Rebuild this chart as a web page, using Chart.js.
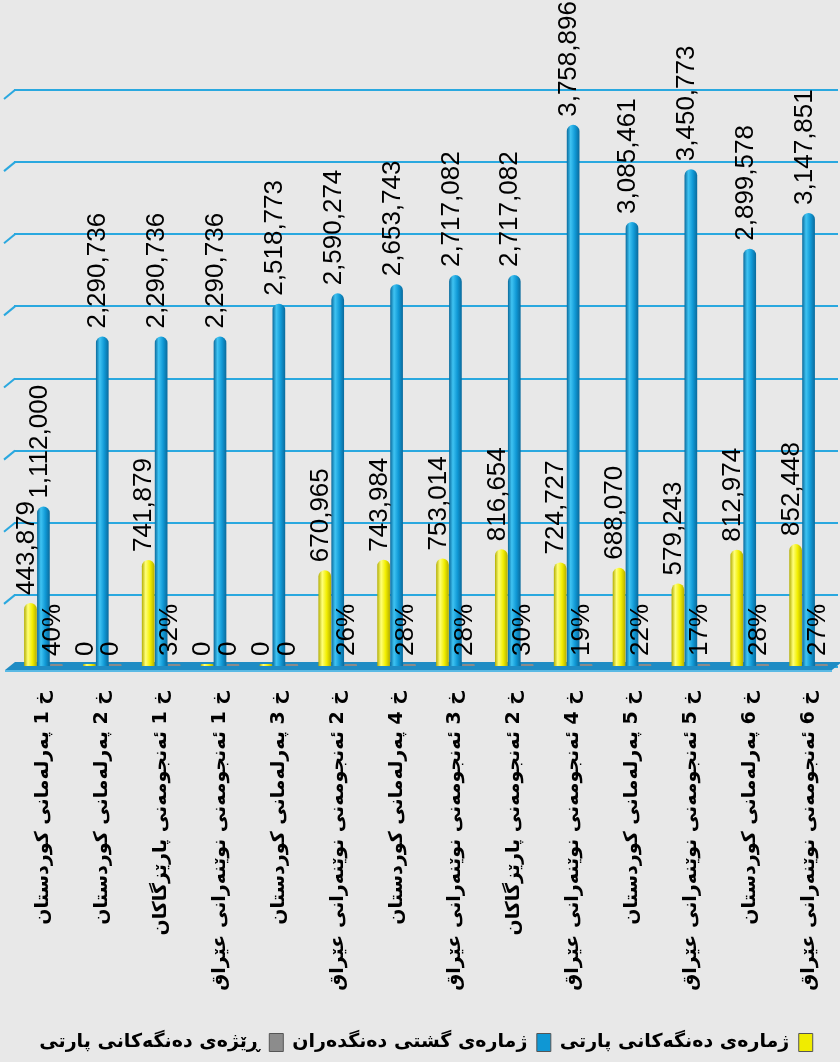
<!DOCTYPE html>
<html>
<head>
<meta charset="utf-8">
<script src="https://cdn.jsdelivr.net/npm/chart.js@4.4.1/dist/chart.umd.min.js"></script>
<style>
    html, body { margin: 0; padding: 0; background: #e8e8e8; }
    #wrap { width: 840px; height: 1062px; }
</style>
</head>
<body>
<div id="wrap"><canvas id="votes"></canvas></div>
<script>
const categories = [
    'خ 1 پەرلەمانی کوردستان',
    'خ 2 پەرلەمانی کوردستان',
    'خ 1 ئەنجومەنی پارێزگاکان',
    'خ 1 ئەنجومەنی نوێنەرانی عێراق',
    'خ 3 پەرلەمانی کوردستان',
    'خ 2 ئەنجومەنی نوێنەرانی عێراق',
    'خ 4 پەرلەمانی کوردستان',
    'خ 3 ئەنجومەنی نوێنەرانی عێراق',
    'خ 2 ئەنجومەنی پارێزگاکان',
    'خ 4 ئەنجومەنی نوێنەرانی عێراق',
    'خ 5 پەرلەمانی کوردستان',
    'خ 5 ئەنجومەنی نوێنەرانی عێراق',
    'خ 6 پەرلەمانی کوردستان',
    'خ 6 ئەنجومەنی نوێنەرانی عێراق'
];
const partyVotes = [443879, 0, 741879, 0, 0, 670965, 743984, 753014, 816654, 724727, 688070, 579243, 812974, 852448];
const totalVoters = [1112000, 2290736, 2290736, 2290736, 2518773, 2590274, 2653743, 2717082, 2717082, 3758896, 3085461, 3450773, 2899578, 3147851];
const partyShare = [40, 0, 32, 0, 0, 26, 28, 28, 30, 19, 22, 17, 28, 27];
const seriesNames = ['ژمارەی دەنگەکانی پارتی', 'ژمارەی گشتی دەنگدەران', 'ڕێژەی دەنگەکانی پارتی'];
const yMin = 0;
const yMax = 4000000;
const yStep = 500000;

const solidColors = ['#f0ec00', '#0f97d4', '#8c8c8c'];
const gridBlue = '#2aa8df';

// horizontal gradient so the bars look like cylinders
function cylinder(dark, light, mid) {
    return function (ctx) {
        const el = ctx.element;
        if (!el || !isFinite(el.x) || !el.width) return mid;
        const g = ctx.chart.ctx.createLinearGradient(el.x - el.width / 2, 0, el.x + el.width / 2, 0);
        g.addColorStop(0, dark);
        g.addColorStop(0.3, light);
        g.addColorStop(0.65, mid);
        g.addColorStop(1, dark);
        return g;
    };
}

// 3d floor and the little slanted stubs on the left of every grid line
const floorPlugin = {
    id: 'floor',
    beforeDatasetsDraw(chart) {
        const {ctx, chartArea} = chart;
        const {left, right, bottom} = chartArea;
        const y = chart.scales.y;
        ctx.save();
        ctx.strokeStyle = gridBlue;
        ctx.lineWidth = 2;
        y.ticks.forEach(t => {
            if (t.value === 0) return;
            const py = y.getPixelForValue(t.value);
            ctx.beginPath();
            ctx.moveTo(left + 1, py);
            ctx.lineTo(left - 10, py + 9);
            ctx.stroke();
        });
        ctx.fillStyle = '#1f8cc4';
        ctx.beginPath();
        ctx.moveTo(left - 9, bottom + 3);
        ctx.lineTo(left + 1, bottom - 5);
        ctx.lineTo(right + 4, bottom - 5);
        ctx.lineTo(right - 6, bottom + 3);
        ctx.closePath();
        ctx.fill();
        ctx.fillStyle = '#5ab9e4';
        ctx.fillRect(left - 9, bottom + 3, right - left + 3, 2);
        ctx.restore();
    }
};

const valueLabels = {
    id: 'valueLabels',
    afterDatasetsDraw(chart) {
        const ctx = chart.ctx;
        ctx.save();
        ctx.fillStyle = '#000';
        ctx.font = '26px "Liberation Sans", Arial, sans-serif';
        ctx.textAlign = 'left';
        ctx.textBaseline = 'middle';
        chart.data.datasets.forEach((ds, i) => {
            chart.getDatasetMeta(i).data.forEach((bar, j) => {
                const v = ds.data[j];
                let text = v.toLocaleString('en-US');
                if (i === 2 && v) text = v + '%';
                ctx.save();
                ctx.translate(bar.x - 4, Math.min(bar.y, bar.base) - 8);
                ctx.rotate(-Math.PI / 2);
                ctx.fillText(text, 0, 0);
                ctx.restore();
            });
        });
        ctx.restore();
    }
};

const chart = new Chart(document.getElementById('votes'), {
    type: 'bar',
    data: {
        labels: categories,
        datasets: [{
            label: seriesNames[0],
            data: partyVotes,
            backgroundColor: cylinder('#b3ae00', '#ffff7a', '#f2ee00'),
            minBarLength: 3
        }, {
            label: seriesNames[1],
            data: totalVoters,
            backgroundColor: cylinder('#0a6a9c', '#3fc3f2', '#1099d6')
        }, {
            label: seriesNames[2],
            data: partyShare,
            backgroundColor: '#8a8a8a',
            minBarLength: 3
        }]
    },
    plugins: [floorPlugin, valueLabels],
    options: {
        responsive: true,
        maintainAspectRatio: false,
        animation: false,
        layout: { padding: { top: 90, left: 14, right: 2, bottom: 0 } },
        datasets: {
            bar: {
                categoryPercentage: 0.66,
                barPercentage: 0.98,
                borderRadius: { topLeft: 7, topRight: 7, bottomLeft: 0, bottomRight: 0 },
                borderSkipped: 'start',
                borderWidth: 0
            }
        },
        scales: {
            x: {
                grid: { display: false },
                border: { display: false },
                ticks: {
                    autoSkip: false,
                    minRotation: 90,
                    maxRotation: 90,
                    padding: 16,
                    color: '#000',
                    font: { family: '"DejaVu Sans", sans-serif', size: 19, weight: 'bold' }
                },
                afterFit(scale) {
                    scale.height = 357;
                    scale.paddingLeft = 0;
                    scale.paddingRight = 0;
                }
            },
            y: {
                min: yMin,
                max: yMax,
                border: { display: false },
                grid: { color: gridBlue, lineWidth: 2, drawTicks: false },
                ticks: { display: false, stepSize: yStep }
            }
        },
        plugins: {
            tooltip: { enabled: false },
            legend: {
                position: 'bottom',
                rtl: true,
                textDirection: 'rtl',
                labels: {
                    color: '#000',
                    boxWidth: 14,
                    boxHeight: 18,
                    padding: 9,
                    font: { family: '"DejaVu Sans", sans-serif', size: 19, weight: 'bold' },
                    generateLabels(chart) {
                        const items = Chart.defaults.plugins.legend.labels.generateLabels(chart);
                        items.forEach((item, i) => {
                            item.fillStyle = solidColors[i];
                            item.strokeStyle = '#555';
                            item.lineWidth = 1;
                        });
                        return items;
                    }
                }
            }
        }
    }
});
// second pass so the gradients see the bar positions
chart.update();
</script>
</body>
</html>
